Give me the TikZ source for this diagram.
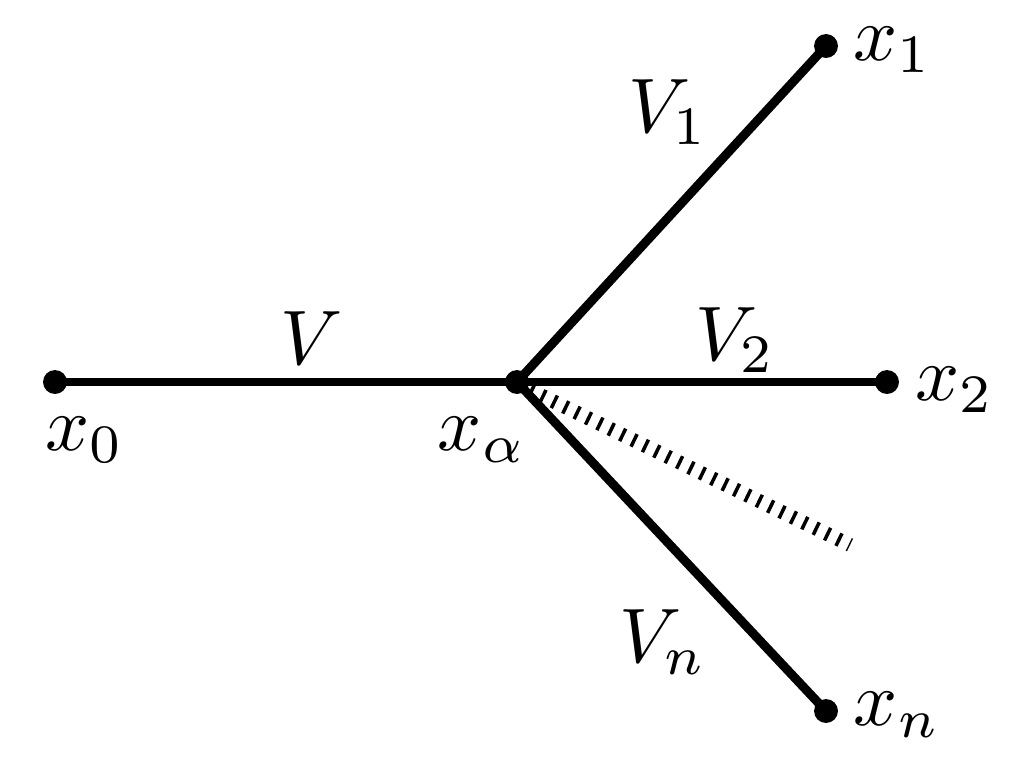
\documentclass[tikz,border=0pt]{standalone}
\begin{document}
\begin{tikzpicture}[x=0.02cm,y=-0.02cm,
  edge/.style={line width=9*0.567pt},
  pt/.style={circle,fill=black,inner sep=0pt,minimum size=24*0.567pt},
  lab/.style={scale=4.4}]
\useasboundingbox (0,0) rectangle (1024,771);
\node[pt] (x0) at (55,382) {};
\node[pt] (xa) at (517,382) {};
\node[pt] (x1) at (826,46) {};
\node[pt] (x2) at (887,382) {};
\node[pt] (xn) at (826,711) {};
\coordinate (h0) at (530,390);
\coordinate (h1) at (850,545);
\draw[edge] (x0.center) -- (xa.center);
\draw[edge] (xa.center) -- (x1.center);
\draw[edge] (xa.center) -- (x2.center);
\draw[edge] (xa.center) -- (xn.center);
\draw[line width=14*0.567pt,dash pattern=on 2pt off 5.2pt] (h0) -- (h1);
\node[lab] at (85,440) {$x_0$};
\node[lab] at (482,440) {$x_\alpha$};
\node[lab] at (893,50) {$x_1$};
\node[lab] at (955,390) {$x_2$};
\node[lab] at (897,715) {$x_n$};
\node[lab] at (312,338) {$V$};
\node[lab] at (668,112) {$V_1$};
\node[lab] at (735,340) {$V_2$};
\node[lab] at (663,642) {$V_n$};
\end{tikzpicture}
\end{document}
